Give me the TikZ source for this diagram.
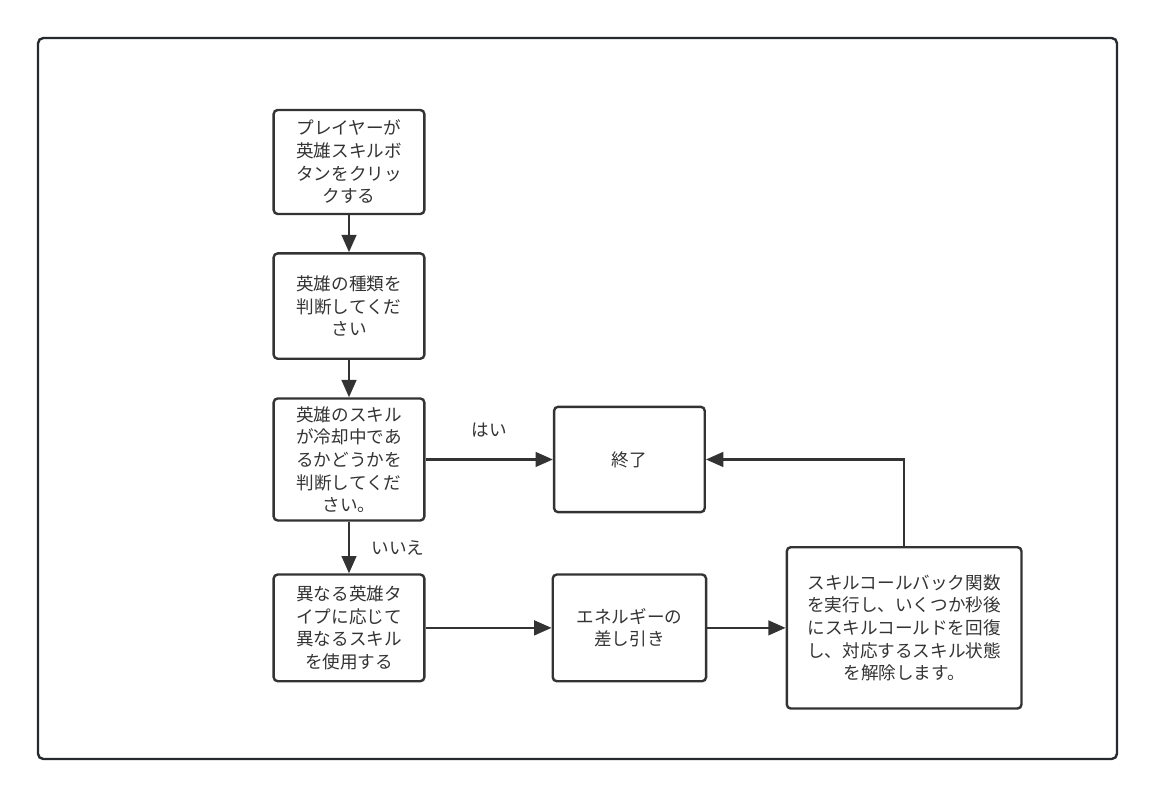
\documentclass[tikz,border=0pt]{standalone}
\usepackage{fontspec}
\setmainfont{Noto Sans CJK JP}
\usepackage{tikz}
\usetikzlibrary{arrows.meta,positioning}
\definecolor{linecol}{RGB}{51,51,51}
\definecolor{framecol}{RGB}{38,42,46}
\tikzset{
  proc/.style ={rectangle, rounded corners=3pt, draw=linecol, line width=1.8pt,
                align=center, minimum width=113pt, minimum height=79pt,
                font=\fontsize{13.2}{17}\selectfont, text=linecol, inner sep=2pt},
  flow/.style ={-{Triangle[length=13pt,width=11pt]}, line width=1.8pt, draw=linecol},
  lbl/.style  ={font=\fontsize{13.2}{15}\selectfont, text=linecol, inner sep=1pt},
}

\begin{document}
\begin{tikzpicture}[x=0.75pt,y=-0.75pt]
    \useasboundingbox (0,0) rectangle (1155,796);
    % outer frame
    \draw[framecol, line width=1.8pt, rounded corners=4pt] (38,38) rectangle (1117,759);

    % main column (left)
    \node[proc, minimum height=78pt] (click) at (349,162)
        {プレイヤーが\\英雄スキルボ\\タンをクリッ\\クする};
    \node[proc, below=27.75pt of click] (kind)
        {英雄の種類を\\判断してくだ\\さい};
    \node[proc, minimum height=91.5pt, below=28pt of kind] (cooldown)
        {英雄のスキル\\が冷却中であ\\るかどうかを\\判断してくだ\\さい。};
    \node[proc, minimum height=80pt, below=38.75pt of cooldown] (use)
        {異なる英雄タ\\イプに応じて\\異なるスキル\\を使用する};

    % right part
    \node[proc, minimum width=115pt, minimum height=80pt, right=94.5pt of use] (energy)
        {エネルギーの\\差し引き};
    \node[proc] (end) at (energy |- cooldown) {終了};
    \node[proc, minimum width=176pt, minimum height=121pt, right=58.75pt of energy] (callback)
        {スキルコールバック関数\\を実行し、いくつか秒後\\にスキルコールドを回復\\し、対応するスキル状態\\を解除します。};

    % connectors
    \draw[flow] (click) -- (kind);
    \draw[flow] (kind) -- (cooldown);
    \draw[flow] (cooldown) -- (end) node[midway, above=15pt, lbl] {はい};
    \draw[flow] (cooldown) -- (use) node[midway, right=15pt, lbl] {いいえ};
    \draw[flow] (use) -- (energy);
    \draw[flow] (energy) -- (callback);
    \draw[flow] (callback.north) |- (end.east);
\end{tikzpicture}
\end{document}
